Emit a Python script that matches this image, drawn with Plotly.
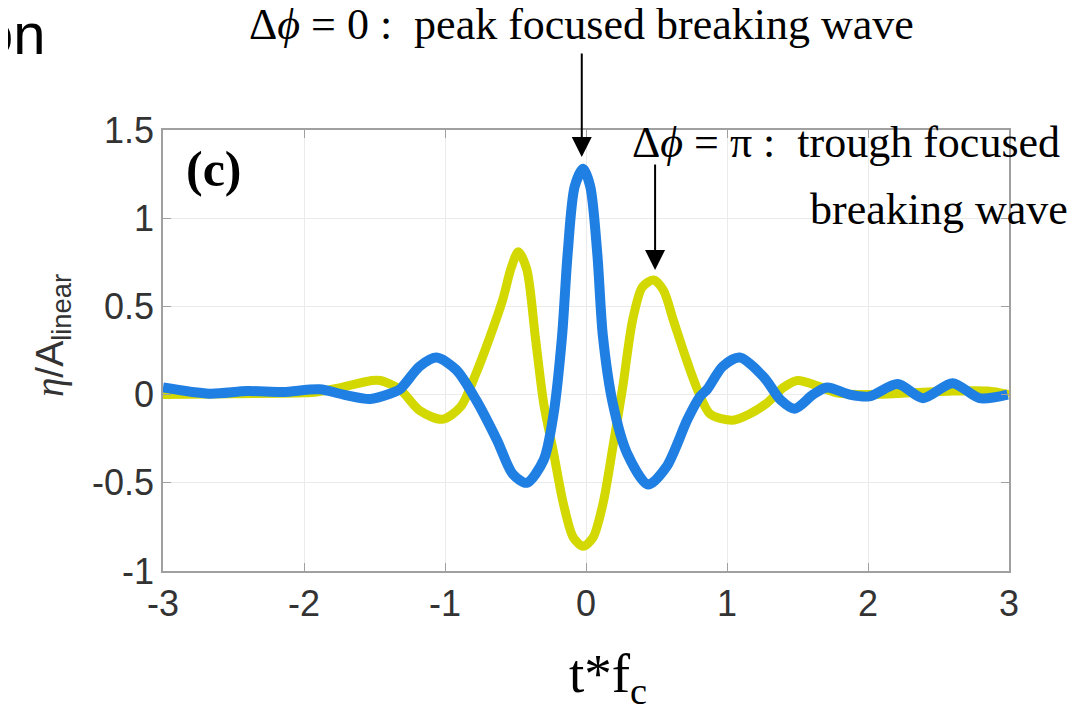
import plotly.graph_objects as go

# ---- data ----
t_blue = [-3.0, -2.67, -2.4, -2.15, -1.89, -1.72, -1.53, -1.39, -1.32, -1.18, -1.06, -0.92, -0.78,
          -0.63, -0.52, -0.42, -0.30, -0.23, -0.17, -0.13, -0.08, -0.02, 0.03, 0.08, 0.12, 0.19,
          0.29, 0.44, 0.57, 0.72, 0.81, 0.86, 0.97, 1.09, 1.26, 1.38, 1.48, 1.61, 1.71, 1.87,
          2.01, 2.21, 2.39, 2.60, 2.79, 2.99]
eta_blue = [0.04, 0.005, 0.02, 0.015, 0.03, 0.0, -0.025, 0.005, 0.03, 0.16, 0.21, 0.14, -0.03,
            -0.26, -0.45, -0.50, -0.37, -0.11, 0.33, 0.80, 1.18, 1.28, 1.18, 0.80, 0.33, -0.05,
            -0.33, -0.51, -0.41, -0.14, -0.01, 0.03, 0.16, 0.21, 0.10, -0.03, -0.08, 0.0, 0.04, 0.0,
            -0.01, 0.06, -0.02, 0.065, -0.02, 0.0]

t_yellow = [-3.0, -2.5, -2.0, -1.91, -1.74, -1.52, -1.46, -1.32, -1.18, -1.02, -0.89, -0.78, -0.68,
            -0.59, -0.53, -0.48, -0.42, -0.36, -0.30, -0.23, -0.16, -0.09, -0.02, 0.05, 0.12, 0.19,
            0.26, 0.33, 0.40, 0.48, 0.55, 0.62, 0.72, 0.79, 0.88, 1.04, 1.16, 1.28, 1.40, 1.50,
            1.64, 1.78, 2.0, 2.3, 2.6, 2.85, 3.0]
eta_yellow = [0.0, 0.005, 0.01, 0.015, 0.04, 0.08, 0.08, 0.03, -0.09, -0.14, -0.07, 0.12, 0.33,
              0.54, 0.72, 0.81, 0.71, 0.33, -0.05, -0.33, -0.62, -0.81, -0.86, -0.81, -0.62, -0.30,
              0.04, 0.42, 0.61, 0.65, 0.59, 0.42, 0.18, 0.03, -0.11, -0.145, -0.11, -0.05, 0.04, 0.08,
              0.05, 0.01, 0.0, 0.01, 0.02, 0.02, 0.0]

x_ticks = [-3, -2, -1, 0, 1, 2, 3]
y_ticks = [-1, -0.5, 0, 0.5, 1, 1.5]
y_tick_labels = ["-1", "-0.5", "0", "0.5", "1", "1.5"]

# ---- layout geometry (screen pixels; page body has an 8px margin) ----
OFF = 8
W, H = 1091 - OFF, 711 - OFF
L, R, T, B = 163, 1009, 130, 571   # plot area on screen


def px(x):
    return (x - L) / (R - L)


def py(y):
    return (B - y) / (B - T)


SERIF = "Liberation Serif, Times New Roman, serif"
SANS = "Liberation Sans, Arial, sans-serif"

fig = go.Figure()
fig.add_trace(go.Scatter(x=t_yellow, y=eta_yellow, mode="lines",
                         line=dict(color="#d3d800", width=9, shape="spline", smoothing=0.8),
                         showlegend=False, hoverinfo="skip"))
fig.add_trace(go.Scatter(x=t_blue, y=eta_blue, mode="lines",
                         line=dict(color="#1f7fe2", width=10, shape="spline", smoothing=0.8),
                         showlegend=False, hoverinfo="skip"))

axis_common = dict(showgrid=True, gridcolor="#ebebeb", gridwidth=1,
                   showline=True, linecolor="#a0a0a0", linewidth=1.5, mirror="ticks",
                   ticks="inside", ticklen=8, tickcolor="#a0a0a0", tickwidth=1.2,
                   zeroline=False)

fig.update_xaxes(range=[-3, 3], tickvals=x_ticks, ticktext=[str(v) for v in x_ticks],
                 tickfont=dict(family=SANS, size=36, color="#333333"), **axis_common)
fig.update_yaxes(range=[-1, 1.5], tickvals=y_ticks, ticktext=y_tick_labels,
                 tickfont=dict(family=SANS, size=36, color="#333333"), **axis_common)

annotations = [
    # cut-off text at top-left
    dict(text="tion", x=px(48), y=py(33), xref="paper", yref="paper", xanchor="right",
         yanchor="middle", showarrow=False, font=dict(family=SANS, size=58, color="black")),
    # y-axis title
    dict(text="<i>η</i><span style='font-family:Liberation Sans'>/A<sub>linear</sub></span>",
         x=px(52), y=py(336), xref="paper", yref="paper", textangle=-90,
         xanchor="center", yanchor="middle", showarrow=False,
         font=dict(family=SERIF, size=39, color="#333333")),
    # x-axis title
    dict(text="t*f<sub>c</sub>", x=px(608), y=py(677), xref="paper", yref="paper",
         xanchor="center", yanchor="middle", showarrow=False,
         font=dict(family=SERIF, size=55, color="black")),
    # panel label
    dict(text="<b>(c)</b>", x=px(184), y=py(169), xref="paper", yref="paper",
         xanchor="left", yanchor="middle", showarrow=False,
         font=dict(family=SERIF, size=50, color="black")),
    # label 1
    dict(text="Δ<i>ϕ</i> = 0 :  peak focused breaking wave", x=px(581), y=py(25),
         xref="paper", yref="paper", xanchor="center", yanchor="middle", showarrow=False,
         font=dict(family=SERIF, size=44, color="black")),
    # label 2
    dict(text="Δ<i>ϕ</i> = π :  trough focused", x=px(1062), y=py(143),
         xref="paper", yref="paper", xanchor="right", yanchor="middle", showarrow=False,
         font=dict(family=SERIF, size=44, color="black")),
    dict(text="breaking wave", x=px(1070), y=py(209),
         xref="paper", yref="paper", xanchor="right", yanchor="middle", showarrow=False,
         font=dict(family=SERIF, size=44, color="black")),
    # arrows
    dict(text="", x=-0.03, y=(B - 157) / (B - T) * 2.5 - 1, xref="x", yref="y", ax=0, ay=-105,
         showarrow=True, arrowhead=2, arrowsize=2, arrowwidth=2, arrowcolor="black"),
    dict(text="", x=0.49, y=(B - 270) / (B - T) * 2.5 - 1, xref="x", yref="y", ax=0, ay=-107,
         showarrow=True, arrowhead=2, arrowsize=2, arrowwidth=2, arrowcolor="black"),
]

fig.update_layout(width=W, height=H, margin=dict(l=L - OFF, r=1091 - R, t=T - OFF, b=711 - B),
                  paper_bgcolor="white", plot_bgcolor="white",
                  annotations=annotations, showlegend=False)

fig.write_html("out.html")
